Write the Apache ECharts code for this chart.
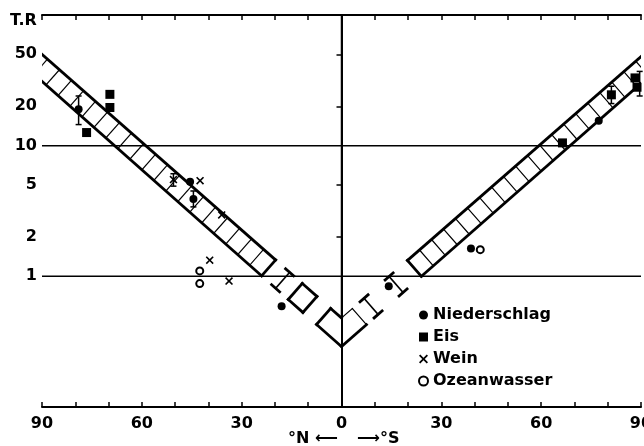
<!DOCTYPE html>
<html><head><meta charset="utf-8">
<script src="https://cdn.jsdelivr.net/npm/echarts@6/dist/echarts.min.js"></script>
<style>html,body{margin:0;padding:0;background:#fff}#c{width:644px;height:446px}</style>
</head><body><div id="c"></div>
<script>
// ---- data ----
const xLabelStep = 30;
const yLabelValues = [1, 2, 5, 10, 20, 50];
const yTickValues = [2, 5, 20, 50];
const gridValues = [1, 10];

const niederschlag = [[-79, 19], [-45.5, 5.3], [-44.5, 3.9], [-18, 0.59], [14.2, 0.84], [38.9, 1.63], [77.3, 15.5]];
const eis = [[-69.6, 24.7], [-69.6, 19.6], [-76.6, 12.6], [66.4, 10.5], [81.1, 24.5], [88.2, 33], [88.8, 28]];
const wein = [[-50.5, 5.5], [-42.5, 5.4], [-36, 2.95], [-39.6, 1.33], [-33.8, 0.92]];
const ozeanwasser = [[-42.6, 1.1], [-42.6, 0.88], [41.7, 1.6]];
const errorBars = [[-79, 14.5, 24], [-50.5, 4.9, 6.1], [-44.5, 3.4, 4.5], [81.1, 21, 28.5], [89.6, 24, 37]];

// band edges (straight lines on the log scale)
const bandLeftUpper = [[-90, 50], [0, 0.48]];
const bandLeftLower = [[-90, 31], [0, 0.29]];
const bandRightUpper = [[90, 48], [0, 0.48]];
const bandRightLower = [[90, 30], [0, 0.29]];
const bandSolidFrom = 24;          // |x| where the hatched band stops
const rungStep = 3.6;              // spacing of hatch rungs (degrees)
const iPiecesLeft = [-19.8];
const boxPiecesLeft = [[-16, -11.6]];
const iPiecesRight = [18.5, 11];
const boxPiecesRight = [];
const vertexHalf = 7.5;
const centerSolid = [[0, 100], [0, 0.48]];
const centerDashed = [[0, 0.29], [0, 0.1]];

// ---- helpers ----
function logInterp(edge, x) {
  const x1 = edge[0][0], y1 = edge[0][1], x2 = edge[1][0], y2 = edge[1][1];
  const t = (x - x1) / (x2 - x1);
  return Math.pow(10, Math.log10(y1) + t * (Math.log10(y2) - Math.log10(y1)));
}

function bandRender(params, api) {
  const pt = (edge, x) => api.coord([x, logInterp(edge, x)]);
  const foot = (P, edge) => {
    const A = api.coord(edge[0]), B = api.coord(edge[1]);
    const dx = B[0] - A[0], dy = B[1] - A[1];
    const t = ((P[0] - A[0]) * dx + (P[1] - A[1]) * dy) / (dx * dx + dy * dy);
    return [A[0] + t * dx, A[1] + t * dy];
  };
  const line = (p, q, w, dash) => ({
    type: 'line', shape: {x1: p[0], y1: p[1], x2: q[0], y2: q[1]},
    style: {stroke: '#000', lineWidth: w, lineDash: dash || null, lineCap: 'square'}
  });
  const EW = 2.8, RW = 1.2;
  const ch = [];
  const sides = [
    {L: bandLeftLower, U: bandLeftUpper, s: -1, I: iPiecesLeft, B: boxPiecesLeft},
    {L: bandRightLower, U: bandRightUpper, s: 1, I: iPiecesRight, B: boxPiecesRight}
  ];
  sides.forEach(sd => {
    const endP = pt(sd.L, sd.s * bandSolidFrom);
    ch.push(line(pt(sd.L, sd.s * 96), endP, EW));
    ch.push(line(pt(sd.U, sd.s * 96), foot(endP, sd.U), EW));
    for (let k = 0; bandSolidFrom + k * rungStep < 100; k++) {
      const P = pt(sd.L, sd.s * (bandSolidFrom + k * rungStep));
      ch.push(line(P, foot(P, sd.U), k === 0 ? EW : RW));
    }
    const h = 1.2;
    sd.I.forEach(c => {
      const a = pt(sd.L, c - h), b = pt(sd.L, c + h), m = pt(sd.L, c);
      ch.push(line(a, b, EW));
      ch.push(line(foot(a, sd.U), foot(b, sd.U), EW));
      ch.push(line(m, foot(m, sd.U), RW + 0.4));
    });
    sd.B.forEach(iv => {
      const a = pt(sd.L, iv[0]), b = pt(sd.L, iv[1]);
      ch.push(line(a, b, EW));
      ch.push(line(foot(a, sd.U), foot(b, sd.U), EW));
      ch.push(line(a, foot(a, sd.U), EW));
      ch.push(line(b, foot(b, sd.U), EW));
    });
  });
  // vertex piece
  const vl = api.coord([0, bandLeftLower[1][1]]);
  const vu = api.coord([0, bandLeftUpper[1][1]]);
  const la = pt(bandLeftLower, -vertexHalf), ra = pt(bandRightLower, vertexHalf);
  const lu = foot(la, bandLeftUpper), ru = foot(ra, bandRightUpper);
  ch.push(line(la, vl, EW)); ch.push(line(vl, ra, EW));
  ch.push(line(lu, vu, EW)); ch.push(line(vu, ru, RW));
  ch.push(line(la, lu, EW)); ch.push(line(ra, ru, RW));
  return {type: 'group', children: ch};
}

function errRender(params, api) {
  const x = api.value(0);
  const p1 = api.coord([x, api.value(1)]), p2 = api.coord([x, api.value(2)]);
  const c = 3;
  const st = {stroke: '#000', lineWidth: 1.5};
  return {type: 'group', children: [
    {type: 'line', shape: {x1: p1[0], y1: p1[1], x2: p2[0], y2: p2[1]}, style: st},
    {type: 'line', shape: {x1: p1[0] - c, y1: p1[1], x2: p1[0] + c, y2: p1[1]}, style: st},
    {type: 'line', shape: {x1: p2[0] - c, y1: p2[1], x2: p2[0] + c, y2: p2[1]}, style: st}
  ]};
}

const FONT = 'DejaVu Sans';
const labelStyle = {fontFamily: FONT, fontWeight: 'bold', fontSize: 16, color: '#000'};
const axisLine = {show: true, lineStyle: {color: '#000', width: 2}};
const xCommon = {type: 'value', min: -90, max: 90, interval: 10, axisLine: axisLine, splitLine: {show: false}};
const yCommon = {type: 'log', logBase: 10, min: 0.1, max: 100, axisLine: axisLine, splitLine: {show: false}, minorTick: {show: false}};

const chart = echarts.init(document.getElementById('c'), null, {renderer: 'canvas'});
const series = [
  {type: 'custom', name: 'band', renderItem: bandRender, data: [[0, 1]], clip: true, z: 2, silent: true},
  {type: 'line', name: 'c1', data: centerSolid, showSymbol: false, lineStyle: {color: '#000', width: 1.5}, z: 1, silent: true},
  {type: 'line', name: 'c2', data: centerDashed, showSymbol: false, lineStyle: {color: '#000', width: 1, type: [4, 3]}, z: 1, silent: true}
];
gridValues.forEach(v => series.push({type: 'line', name: 'g' + v, data: [[-90, v], [90, v]], showSymbol: false, lineStyle: {color: '#000', width: 1.5}, z: 1, silent: true}));
series.push({type: 'custom', name: 'err', renderItem: errRender, data: errorBars, z: 3, silent: true});
series.push({type: 'scatter', name: 'Niederschlag', data: niederschlag, symbol: 'circle', symbolSize: 8, itemStyle: {color: '#000', opacity: 1}, z: 5});
series.push({type: 'scatter', name: 'Eis', data: eis, symbol: 'rect', symbolSize: 9, itemStyle: {color: '#000', opacity: 1}, z: 5});
series.push({type: 'scatter', name: 'Wein', data: wein, symbol: 'path://M0,1.4L1.4,0L5,3.6L8.6,0L10,1.4L6.4,5L10,8.6L8.6,10L5,6.4L1.4,10L0,8.6L3.6,5Z', symbolSize: 8, itemStyle: {color: '#000', opacity: 1}, z: 5});
series.push({type: 'scatter', name: 'Ozeanwasser', data: ozeanwasser, symbol: 'emptyCircle', symbolSize: 7, itemStyle: {color: '#000', borderColor: '#000', borderWidth: 1.5, opacity: 1}, z: 5});

chart.setOption({
  animation: false,
  backgroundColor: '#fff',
  grid: {left: 42, right: 3, top: 15, bottom: 39, containLabel: false, outerBoundsMode: 'none'},
  xAxis: [
    Object.assign({}, xCommon, {position: 'bottom',
      axisTick: {show: true, inside: true, length: 5, lineStyle: {color: '#000', width: 1.5}},
      axisLabel: Object.assign({}, labelStyle, {margin: 9, formatter: v => (v % xLabelStep === 0 ? String(Math.abs(v)) : '')})}),
    Object.assign({}, xCommon, {position: 'top',
      axisTick: {show: true, inside: true, length: 5, lineStyle: {color: '#000', width: 1.5}},
      axisLabel: {show: false}})
  ],
  yAxis: [
    Object.assign({}, yCommon, {position: 'left',
      axisTick: {show: true, inside: false, length: 4, customValues: yTickValues, lineStyle: {color: '#000', width: 1.5}},
      axisLabel: Object.assign({}, labelStyle, {margin: 5, customValues: yLabelValues, formatter: v => String(Math.round(v * 10) / 10)})}),
    Object.assign({}, yCommon, {position: 'right',
      axisTick: {show: true, inside: true, length: 5, customValues: yTickValues, lineStyle: {color: '#000', width: 1.5}},
      axisLabel: {show: false}})
  ],
  legend: {
    data: ['Niederschlag', 'Eis', 'Wein', 'Ozeanwasser'],
    orient: 'vertical', left: 418, top: 307, padding: 0, itemWidth: 9, itemHeight: 9, itemGap: 6,
    textStyle: {fontFamily: FONT, fontWeight: 'bold', fontSize: 16, color: '#000', lineHeight: 16},
    selectedMode: false
  },
  graphic: [
    {type: 'text', left: 10, top: 13, style: {text: 'T.R', font: 'bold 16px "DejaVu Sans"', fill: '#000'}},
    {type: 'text', x: 338, y: 439, style: {text: '°N ⟵', font: 'bold 16px "DejaVu Sans"', fill: '#000', align: 'right', verticalAlign: 'middle'}},
    {type: 'text', x: 357, y: 439, style: {text: '⟶°S', font: 'bold 16px "DejaVu Sans"', fill: '#000', align: 'left', verticalAlign: 'middle'}}
  ],
  series: series
});
</script></body></html>
